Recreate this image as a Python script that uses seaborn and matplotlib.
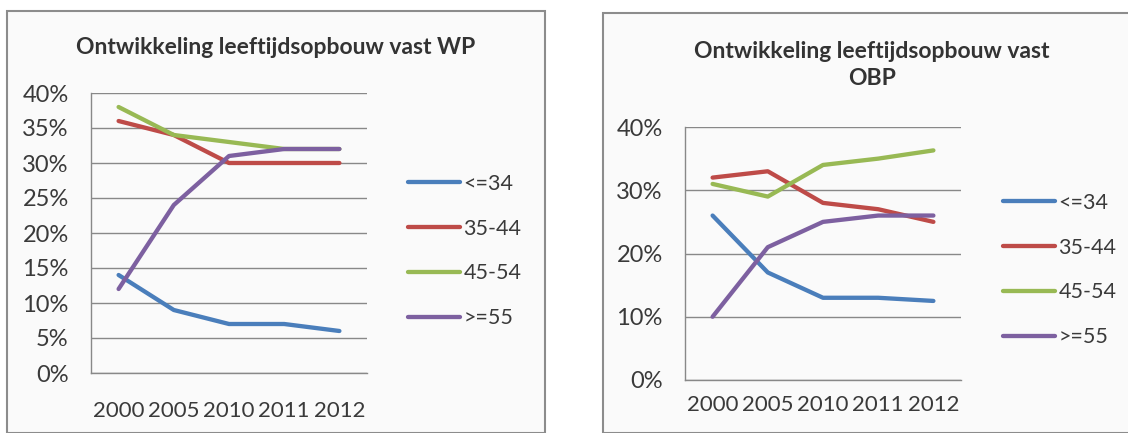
import numpy as np
import pandas as pd
import seaborn as sns
import matplotlib.pyplot as plt
from matplotlib.patches import Rectangle
from matplotlib.ticker import FixedLocator

# categories and series
years = ['2000', '2005', '2010', '2011', '2012']
groups = ['<=34', '35-44', '45-54', '>=55']

wp_le34 = [14, 9, 7, 7, 6]
wp_35_44 = [36, 34, 30, 30, 30]
wp_45_54 = [38, 34, 33, 32, 32]
wp_ge55 = [12, 24, 31, 32, 32]

obp_le34 = [26, 17, 13, 13, 12.5]
obp_35_44 = [32, 33, 28, 27, 25]
obp_45_54 = [31, 29, 34, 35, 36.3]
obp_ge55 = [10, 21, 25, 26, 26]

colors = ['#4A7EBB', '#BE4B48', '#98B954', '#7D60A0']
txt = '#3A3A3A'


def to_long(series):
    rows = []
    for g, vals in zip(groups, series):
        for i, v in enumerate(vals):
            rows.append({'pos': i, 'year': years[i], 'groep': g, 'pct': v})
    return pd.DataFrame(rows)


def draw(ax, df, ymax, ystep, xpad, legend_anchor):
    sns.lineplot(data=df, x='pos', y='pct', hue='groep', hue_order=groups,
                 palette=colors, linewidth=3.1, ax=ax, legend=True)
    ax.set_xlim(-0.5, len(years) - 0.5)
    ax.set_ylim(0, ymax)
    yt = np.arange(0, ymax + 0.1, ystep)
    ax.set_yticks(yt)
    ax.set_yticklabels([f'{int(t)}%' for t in yt])
    ax.set_xticks(range(len(years)))
    ax.set_xticklabels(years)
    ax.xaxis.set_minor_locator(FixedLocator(np.arange(-0.5, len(years), 1.0)))
    ax.tick_params(axis='x', which='major', length=0, pad=xpad, labelsize=16, labelcolor=txt)
    ax.tick_params(axis='x', which='minor', length=7, color='#888888', direction='out')
    ax.tick_params(axis='y', length=6, color='#888888', labelsize=17, labelcolor=txt, pad=10)
    ax.grid(axis='y', color='#888888', linewidth=1)
    ax.grid(axis='x', visible=False)
    for s in ['top', 'right']:
        ax.spines[s].set_visible(False)
    for s in ['left', 'bottom']:
        ax.spines[s].set_color('#888888')
        ax.spines[s].set_linewidth(1)
    ax.set_facecolor('none')
    ax.set_xlabel('')
    ax.set_ylabel('')
    handles, labels = ax.get_legend_handles_labels()
    ax.legend(handles, labels, loc='center left', bbox_to_anchor=legend_anchor,
              bbox_transform=ax.figure.transFigure, frameon=False, fontsize=15.5,
              handlelength=2.4, handletextpad=0.15, labelspacing=1.15,
              labelcolor=txt)


sns.set_theme(style='white')
plt.rcParams['font.family'] = ['Lato', 'DejaVu Sans']

fig = plt.figure(figsize=(11.28, 4.33), dpi=100)
W, H = 1128, 433

# panel frames
fig.patches.append(Rectangle((7 / W, 0), (545 - 7) / W, (H - 11) / H, transform=fig.transFigure,
                             facecolor='#FAFAFA', edgecolor='#8C8C8C', linewidth=1.5, zorder=-5))
fig.patches.append(Rectangle((603 / W, 0), (1135 - 603) / W, (H - 13) / H, transform=fig.transFigure,
                             facecolor='#FAFAFA', edgecolor='#8C8C8C', linewidth=1.5, zorder=-5))

ax1 = fig.add_axes([91 / W, (H - 373) / H, 276 / W, 280 / H])
ax2 = fig.add_axes([685 / W, (H - 380) / H, 276 / W, 253 / H])

draw(ax1, to_long([wp_le34, wp_35_44, wp_45_54, wp_ge55]), 40, 5, 20, (389 / W, 1 - 251 / H))
draw(ax2, to_long([obp_le34, obp_35_44, obp_45_54, obp_ge55]), 40, 10, 11, (984 / W, 1 - 270 / H))

fig.text(276 / W, 1 - 47 / H, 'Ontwikkeling leeftijdsopbouw vast WP', ha='center', va='center',
         fontsize=16.5, fontweight='bold', color='#333333')
fig.text(872 / W, 1 - 65 / H, 'Ontwikkeling leeftijdsopbouw vast\nOBP', ha='center', va='center',
         fontsize=16.5, fontweight='bold', color='#333333', linespacing=1.35)

fig.savefig('out.png', dpi=100)
